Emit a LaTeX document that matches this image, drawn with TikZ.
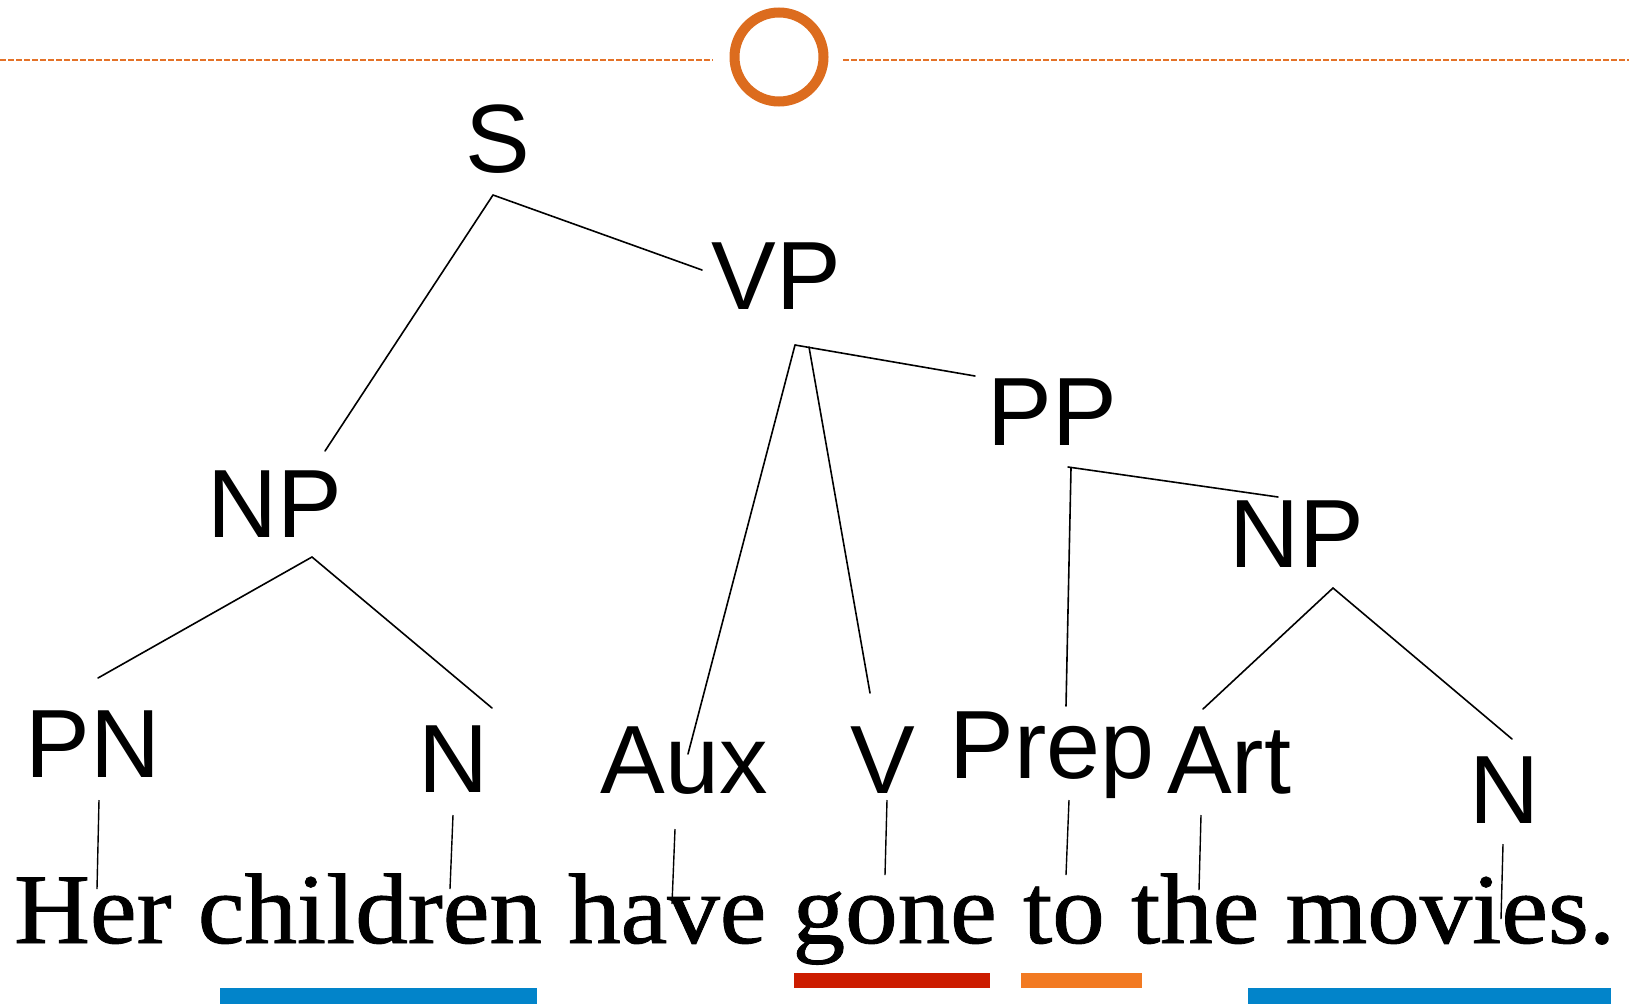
\documentclass[tikz,border=0pt]{standalone}
\usepackage{fontspec}
\usepackage{graphicx}
\setmainfont{Liberation Serif}
\newfontfamily\sentfont[FakeBold=0.9]{Liberation Serif}
\newfontfamily\arialf{Liberation Sans}
\definecolor{ringorange}{RGB}{220,108,30}
\definecolor{dashorange}{RGB}{228,114,40}
\definecolor{barblue}{RGB}{2,132,202}
\definecolor{barred}{RGB}{204,28,0}
\definecolor{barorange}{RGB}{242,122,34}
\tikzset{
  lab/.style={anchor=base, inner sep=0pt, font=\arialf\fontsize{97}{100}\selectfont},
  branch/.style={line width=1.6pt, line cap=round},
  wordlink/.style={line width=1.4pt},
  rule/.style={dashorange, line width=2pt, dash pattern=on 5.5pt off 2.5pt}
}
\begin{document}
\begin{tikzpicture}[x=1pt,y=-1pt]
\useasboundingbox (0,0) rectangle (1629,1004);
% top ornament
\coordinate (ruleL0) at (0,60);
\coordinate (ruleL1) at (713,60);
\coordinate (ruleR0) at (843,60);
\coordinate (ruleR1) at (1629,60);
\draw[rule] (ruleL0) -- (ruleL1);
\draw[rule] (ruleR0) -- (ruleR1);
\node[circle, draw=ringorange, line width=10pt, minimum size=89pt, inner sep=0pt] (ring) at (779,57) {};

% labels
\node[lab] (S) at (498,172) {S};
\node[lab] (VP) at (776,309) {VP};
\node[lab] (NPa) at (275,537) {NP};
\node[lab] (PP) at (1052,445) {PP};
\node[lab] (NPb) at (1297,567) {NP};
\node[lab] (PN) at (93,777) {PN};
\node[lab] (Na) at (454,792) {N};
\node[lab] (Aux) at (684,793) {Aux};
\node[lab] (V) at (883,793) {V};
\node[lab] (Prep) at (1052,778) {Prep};
\node[lab] (Art) at (1229,793) {Art};
\node[lab] (Nb) at (1505,823) {N};

% sentence
\node[anchor=base west, inner sep=0pt] (sent) at (14,943)
  {\scalebox{1.05}[1]{\sentfont\fontsize{100}{110}\selectfont Her children have gone to the movies.}};

% attachment points
\coordinate (S-b) at (493,195);
\coordinate (NPa-t) at (325,451);
\coordinate (VP-t) at (702,270);
\coordinate (VP-b) at (795,345);
\coordinate (VP-b2) at (809,347);
\coordinate (PP-t) at (975,376);
\coordinate (Aux-t) at (688,754);
\coordinate (V-t) at (870,693);
\coordinate (NPa-b) at (312,557);
\coordinate (PN-t) at (98,678);
\coordinate (Na-t) at (492,708);
\coordinate (PP-b) at (1068,467);
\coordinate (PP-b2) at (1071,468);
\coordinate (NPb-t) at (1278,497);
\coordinate (Prep-t) at (1066,706);
\coordinate (NPb-b) at (1333,588);
\coordinate (Art-t) at (1203,709);
\coordinate (Nb-t) at (1512,739);

% tree branches
\draw[branch] (S-b) -- (NPa-t);
\draw[branch] (S-b) -- (VP-t);
\draw[branch] (VP-b) -- (Aux-t);
\draw[branch] (VP-b2) -- (V-t);
\draw[branch] (VP-b) -- (PP-t);
\draw[branch] (NPa-b) -- (PN-t);
\draw[branch] (NPa-b) -- (Na-t);
\draw[branch] (PP-b) -- (NPb-t);
\draw[branch] (PP-b2) -- (Prep-t);
\draw[branch] (NPb-b) -- (Art-t);
\draw[branch] (NPb-b) -- (Nb-t);

% links from labels to words
\coordinate (PN-b) at (99,800);   \coordinate (w-Her) at (97,889);
\coordinate (Na-b) at (453,815);  \coordinate (w-children) at (450,889);
\coordinate (Aux-b) at (675,829); \coordinate (w-have) at (672,904);
\coordinate (V-b) at (887,800);   \coordinate (w-gone) at (885,875);
\coordinate (Prep-b) at (1069,800); \coordinate (w-to) at (1066,875);
\coordinate (Art-b) at (1201,815);  \coordinate (w-the) at (1199,890);
\coordinate (Nb-b) at (1503,844);   \coordinate (w-movies) at (1501,919);
\draw[wordlink] (PN-b) -- (w-Her);
\draw[wordlink] (Na-b) -- (w-children);
\draw[wordlink] (Aux-b) -- (w-have);
\draw[wordlink] (V-b) -- (w-gone);
\draw[wordlink] (Prep-b) -- (w-to);
\draw[wordlink] (Art-b) -- (w-the);
\draw[wordlink] (Nb-b) -- (w-movies);

% colour bars
\fill[barblue] (220,988) rectangle (537,1004);
\fill[barred] (794,973) rectangle (990,988);
\fill[barorange] (1021,973) rectangle (1142,988);
\fill[barblue] (1248,988) rectangle (1611,1004);
\end{tikzpicture}
\end{document}
